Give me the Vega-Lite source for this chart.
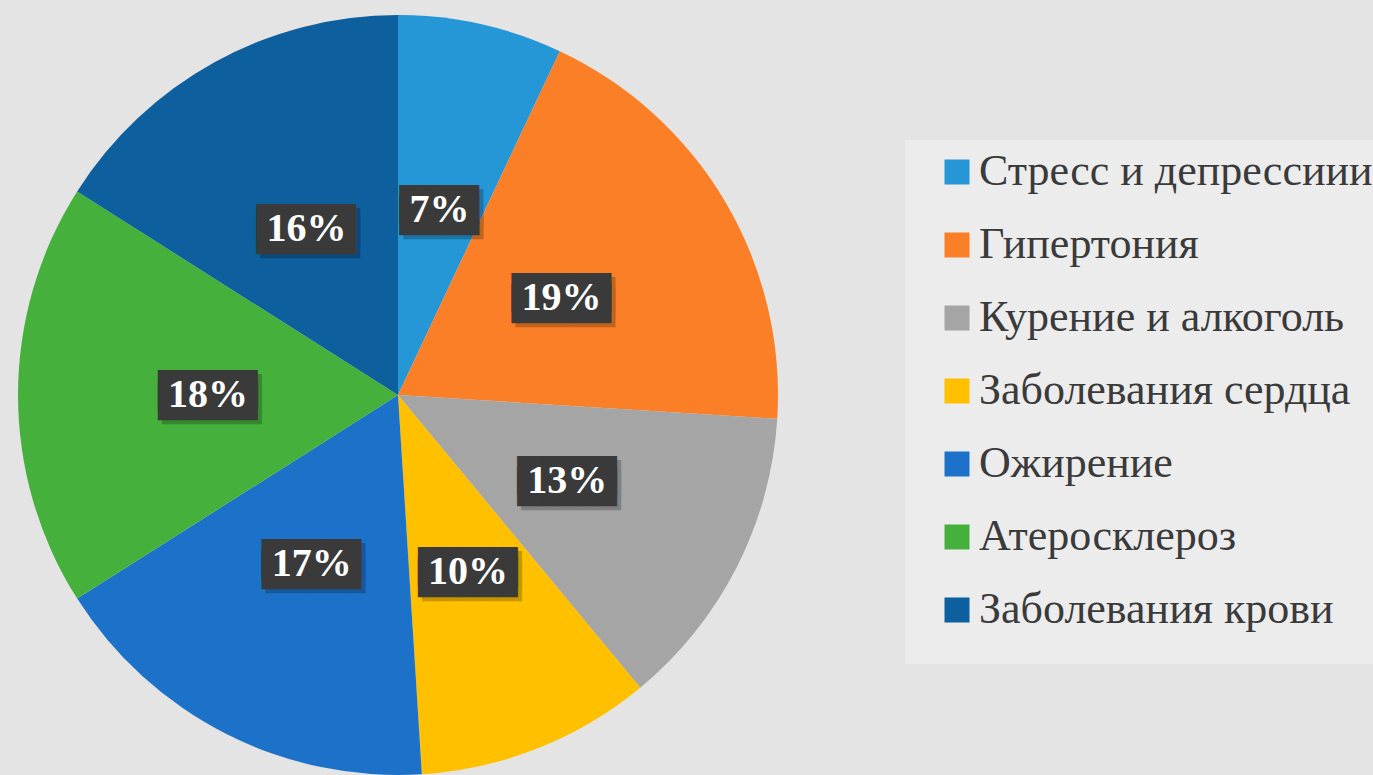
{
  "$schema": "https://vega.github.io/schema/vega-lite/v6.json",
  "width": 796,
  "height": 780,
  "autosize": "none",
  "padding": {"left": 0, "top": 5, "right": 577, "bottom": 0},
  "background": "#e4e4e4",
  "config": {
    "view": {"stroke": null},
    "legend": {"labelFont": "'Liberation Serif', 'Times New Roman', 'DejaVu Serif', serif", "labelFontSize": 44}
  },
  "data": {
    "values": [
      {"i": 1, "name": "Стресс и депрессиии", "v": 7, "label": "7%"},
      {"i": 2, "name": "Гипертония", "v": 19, "label": "19%"},
      {"i": 3, "name": "Курение и алкоголь", "v": 13, "label": "13%"},
      {"i": 4, "name": "Заболевания сердца", "v": 10, "label": "10%"},
      {"i": 5, "name": "Ожирение", "v": 17, "label": "17%"},
      {"i": 6, "name": "Атеросклероз", "v": 18, "label": "18%"},
      {"i": 7, "name": "Заболевания крови", "v": 16, "label": "16%"}
    ]
  },
  "encoding": {
    "theta": {"field": "v", "type": "quantitative", "stack": true},
    "order": {"field": "i", "type": "quantitative"}
  },
  "layer": [
    {
      "mark": {"type": "arc", "outerRadius": 380},
      "encoding": {
        "color": {
          "field": "name",
          "type": "nominal",
          "sort": null,
          "scale": {
            "domain": ["Стресс и депрессиии", "Гипертония", "Курение и алкоголь", "Заболевания сердца", "Ожирение", "Атеросклероз", "Заболевания крови"],
            "range": ["#2596d6", "#fa7f26", "#a5a5a5", "#ffc000", "#1c72c8", "#46b03d", "#0d5f9e"]
          },
          "legend": {
            "title": " ",
            "titleOrient": "bottom",
            "titleFontSize": 18,
            "titlePadding": 4,
            "orient": "none",
            "legendX": 905,
            "legendY": 135,
            "padding": 10,
            "fillColor": "#ececec",
            "symbolType": "square",
            "symbolSize": 625,
            "symbolStrokeWidth": 0,
            "symbolOffset": 20,
            "labelFont": "'Liberation Serif', 'Times New Roman', 'DejaVu Serif', serif",
            "labelFontSize": 44,
            "labelColor": "#3a3a3a",
            "labelLimit": 600,
            "labelOffset": 0,
            "rowPadding": 29
          }
        }
      }
    },
    {
      "mark": {"type": "text", "radius": 190, "font": "DejaVu Sans Mono", "fontSize": 33, "lineHeight": 11, "dx": 4, "dy": 0, "color": "#000000", "opacity": 0.22, "align": "center", "baseline": "middle"},
      "encoding": {
        "text": {
          "condition": {"test": "datum.v < 10", "value": ["████", "████"]},
          "value": ["█████", "█████"]
        }
      }
    },
    {
      "mark": {"type": "text", "radius": 190, "font": "DejaVu Sans Mono", "fontSize": 33, "lineHeight": 11, "dy": -4, "color": "#3a3a3a", "align": "center", "baseline": "middle"},
      "encoding": {
        "text": {
          "condition": {"test": "datum.v < 10", "value": ["████", "████"]},
          "value": ["█████", "█████"]
        }
      }
    },
    {
      "mark": {"type": "text", "radius": 190, "font": "'Liberation Serif', 'Times New Roman', 'DejaVu Serif', serif", "fontWeight": "bold", "fontSize": 40, "color": "#ffffff", "align": "center", "baseline": "middle"},
      "encoding": {"text": {"field": "label"}}
    }
  ]
}
